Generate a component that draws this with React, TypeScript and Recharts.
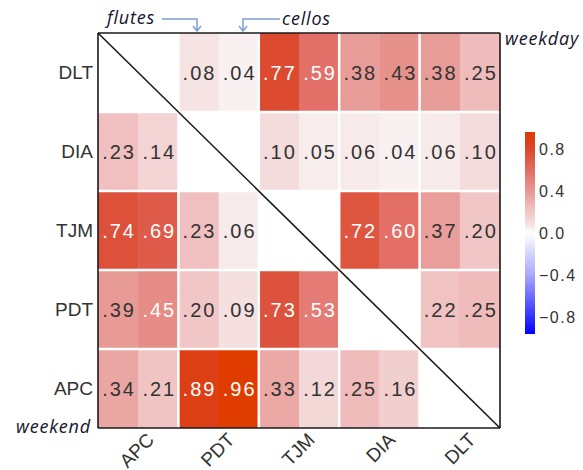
import React from 'react'
import { BarChart, Bar, ScatterChart, Scatter, XAxis, YAxis, ReferenceLine } from 'recharts'

// column groups, left to right; each group holds two sub-columns
const groups = ['APC', 'PDT', 'TJM', 'DIA', 'DLT']
const instruments = ['flutes', 'cellos']
// rows, bottom to top
const rowNames = ['APC', 'PDT', 'TJM', 'DIA', 'DLT']

// correlation values per row (flutes, cellos for each group), null = blank block
const rowAPC = [0.34, 0.21, 0.89, 0.96, 0.33, 0.12, 0.25, 0.16, null, null]
const rowPDT = [0.39, 0.45, 0.2, 0.09, 0.73, 0.53, null, null, 0.22, 0.25]
const rowTJM = [0.74, 0.69, 0.23, 0.06, null, null, 0.72, 0.6, 0.37, 0.2]
const rowDIA = [0.23, 0.14, null, null, 0.1, 0.05, 0.06, 0.04, 0.06, 0.1]
const rowDLT = [null, null, 0.08, 0.04, 0.77, 0.59, 0.38, 0.43, 0.38, 0.25]
const rows = [rowAPC, rowPDT, rowTJM, rowDIA, rowDLT]

const colorTicks = [-0.8, -0.4, 0, 0.4, 0.8]
const colorRange = [-0.96, 0.96]

// colour map
const posStops: [number, string][] = [
  [0, '#ffffff'],
  [0.05, '#f8eded'],
  [0.1, '#f4dcdc'],
  [0.23, '#f0c0c0'],
  [0.38, '#e89c98'],
  [0.45, '#e68c86'],
  [0.59, '#e27068'],
  [0.77, '#dc4a30'],
  [0.89, '#dd3f14'],
  [0.96, '#e03c00'],
]
const negStops: [number, string][] = [
  [0, '#ffffff'],
  [0.4, '#a8a8ff'],
  [0.96, '#0000ff'],
]

const hex = (c: string) => [1, 3, 5].map((i) => parseInt(c.slice(i, i + 2), 16))

function colorFor(v: number) {
  const stops = v >= 0 ? posStops : negStops
  const a = Math.min(Math.abs(v), 0.96)
  for (let i = 1; i < stops.length; i++) {
    if (a <= stops[i][0]) {
      const [v0, c0] = stops[i - 1]
      const [v1, c1] = stops[i]
      const t = (a - v0) / (v1 - v0)
      const p = hex(c0)
      const q = hex(c1)
      return `rgb(${p.map((x, k) => Math.round(x + (q[k] - x) * t)).join(',')})`
    }
  }
  return stops[stops.length - 1][1]
}

const fmt = (v: number) => v.toFixed(2).replace(/^0/, '')

// one stacked column per sub-column, one unit-high segment per row
const cellData = groups.flatMap((g, gi) =>
  instruments.map((ins, ii) => {
    const d: any = { key: `${g}-${ins}`, idx: gi * 2 + ii }
    rowNames.forEach((_, r) => {
      d[`r${r}`] = 1
    })
    return d
  })
)

// label points in cell units
const labelData = rows.flatMap((vals, r) =>
  vals.flatMap((v, i) => (v === null ? [] : [{ x: i + 0.5, y: r + 0.5, v }]))
)

const colorbarData = [{ name: 'scale', range: colorRange }]

const font = '"Liberation Sans", Arial, sans-serif'
const plotMargin = { top: 33, right: 83, bottom: 42, left: 98 }

function makeCell(r: number) {
  return (props: any) => {
    const { x, y, width, height, payload } = props
    const v = rows[r][payload.idx]
    if (v === null || v === undefined) return <g />
    return <rect x={x} y={y} width={width + 0.6} height={height} fill={colorFor(v)} />
  }
}

const CellLabel = (props: any) => {
  const { cx, cy, payload } = props
  const v = payload.v
  return (
    <text
      x={cx + 1}
      y={cy + 7}
      textAnchor="middle"
      fontSize={20}
      letterSpacing={2}
      fontFamily={font}
      fill={v >= 0.44 ? '#ffffff' : '#333333'}
    >
      {fmt(v)}
    </text>
  )
}

const XTick = (props: any) => {
  const { x, y, payload } = props
  const px = x + 17
  const py = y + 13
  return (
    <text
      x={px}
      y={py}
      textAnchor="end"
      fontSize={19}
      fontFamily={font}
      fill="#333"
      transform={`rotate(-45 ${px} ${py})`}
    >
      {groups[(payload.value - 1) / 2]}
    </text>
  )
}

const cbLabel = (v: number) => (v < 0 ? '\u2212' + Math.abs(v).toFixed(1) : v.toFixed(1))

export default function App() {
  const frame = '#1a1a1a'
  return (
    <div style={{ position: 'absolute', left: 0, top: 0, width: 583, height: 470, background: '#fff' }}>
      <div style={{ position: 'absolute', left: 0, top: 0 }}>
        <BarChart
          width={583}
          height={470}
          data={cellData}
          margin={plotMargin}
          barCategoryGap={0}
          barGap={0}
        >
          <XAxis dataKey="key" hide />
          <YAxis type="number" domain={[0, 5]} hide />
          {rowNames.map((name, r) => (
            <Bar
              key={name}
              dataKey={`r${r}`}
              stackId="cells"
              isAnimationActive={false}
              shape={makeCell(r)}
            />
          ))}
        </BarChart>
      </div>

      <div style={{ position: 'absolute', left: 0, top: 0 }}>
        <ScatterChart width={583} height={470} margin={{ top: 33, right: 83, bottom: 0, left: 0 }}>
          <XAxis
            type="number"
            dataKey="x"
            domain={[0, 10]}
            ticks={[1, 3, 5, 7, 9]}
            allowDataOverflow
            height={42}
            axisLine={false}
            tickLine={false}
            tickSize={0}
            tickMargin={0}
            tick={<XTick />}
          />
          <YAxis
            type="number"
            dataKey="y"
            domain={[0, 5]}
            ticks={[0.5, 1.5, 2.5, 3.5, 4.5]}
            allowDataOverflow
            width={98}
            axisLine={false}
            tickLine={false}
            tickSize={0}
            tickMargin={5}
            tickFormatter={(v: number) => rowNames[Math.floor(v)]}
            tick={{ fontSize: 19, fill: '#333', fontFamily: font }}
          />
          {[2, 4, 6, 8].map((v) => (
            <ReferenceLine key={`vx${v}`} x={v} stroke="#fff" strokeWidth={2.5} />
          ))}
          {[1, 2, 3, 4].map((v) => (
            <ReferenceLine key={`hy${v}`} y={v} stroke="#fff" strokeWidth={2.5} />
          ))}
          <Scatter data={labelData} isAnimationActive={false} shape={<CellLabel />} />
          <ReferenceLine
            segment={[
              { x: 0, y: 5 },
              { x: 10, y: 0 },
            ]}
            stroke={frame}
            strokeWidth={1.6}
          />
          <ReferenceLine x={0} stroke={frame} strokeWidth={1.6} />
          <ReferenceLine x={10} stroke={frame} strokeWidth={1.6} />
          <ReferenceLine y={0} stroke={frame} strokeWidth={1.6} />
          <ReferenceLine y={5} stroke={frame} strokeWidth={1.6} />
        </ScatterChart>
      </div>

      <div style={{ position: 'absolute', left: 500, top: 120 }}>
        <BarChart
          width={80}
          height={230}
          data={colorbarData}
          margin={{ top: 12, right: 0, bottom: 16, left: 25 }}
          barCategoryGap={0}
        >
          <defs>
            <linearGradient id="cbar" x1="0" y1="0" x2="0" y2="1">
              {Array.from({ length: 25 }, (_, i) => {
                const v = colorRange[1] - (i / 24) * (colorRange[1] - colorRange[0])
                return <stop key={i} offset={`${(i / 24) * 100}%`} stopColor={colorFor(v)} />
              })}
            </linearGradient>
          </defs>
          <XAxis dataKey="name" hide />
          <YAxis
            orientation="right"
            type="number"
            domain={colorRange}
            ticks={colorTicks}
            width={45}
            axisLine={false}
            tickLine={false}
            tickSize={0}
            tickMargin={4}
            tickFormatter={cbLabel}
            tick={{ fontSize: 16, fill: '#333', fontFamily: font, letterSpacing: 1.5 }}
          />
          <Bar dataKey="range" fill="url(#cbar)" isAnimationActive={false} />
        </BarChart>
      </div>

      <svg
        width={583}
        height={470}
        style={{ position: 'absolute', left: 0, top: 0, pointerEvents: 'none' }}
      >
        <g fontFamily='"Open Sans", sans-serif' fontStyle="italic" fontSize={18} fill="#14142e">
          <text x={107} y={24} letterSpacing={0.8}>flutes</text>
          <text x={282} y={25} letterSpacing={0.8}>cellos</text>
          <text x={505} y={45} letterSpacing={0.8}>weekday</text>
          <text x={16} y={433} letterSpacing={0.8}>weekend</text>
        </g>
        <g stroke="#7f9fd4" strokeWidth={1.5} fill="none">
          <path d="M162 19 H197 V31" />
          <path d="M193 26 L197 31 L201 26" />
          <path d="M280 19 H243 V31" />
          <path d="M239 26 L243 31 L247 26" />
        </g>
      </svg>
    </div>
  )
}
